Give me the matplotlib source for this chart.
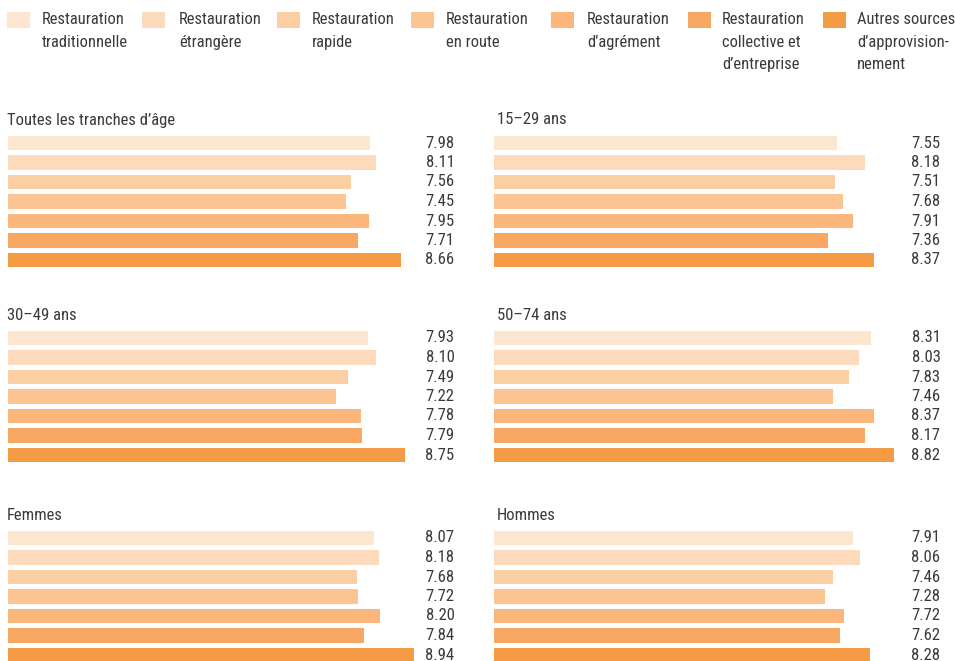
import matplotlib
matplotlib.use("Agg")
import matplotlib.pyplot as plt
from matplotlib.patches import Rectangle

W, H = 955, 661

legend_labels = [
    "Restauration\ntraditionnelle",
    "Restauration\nétrangère",
    "Restauration\nrapide",
    "Restauration\nen route",
    "Restauration\nd’agrément",
    "Restauration\ncollective et\nd’entreprise",
    "Autres sources\nd’approvision-\nnement",
]
colors = ["#fde6cf", "#fcdabb", "#fccea3", "#fbc492", "#fab67b", "#f8a862", "#f59a45"]

panel_titles = ["Toutes les tranches d’âge", "15–29 ans", "30–49 ans",
                "50–74 ans", "Femmes", "Hommes"]
toutes = [7.98, 8.11, 7.56, 7.45, 7.95, 7.71, 8.66]
ans_15_29 = [7.55, 8.18, 7.51, 7.68, 7.91, 7.36, 8.37]
ans_30_49 = [7.93, 8.10, 7.49, 7.22, 7.78, 7.79, 8.75]
ans_50_74 = [8.31, 8.03, 7.83, 7.46, 8.37, 8.17, 8.82]
femmes = [8.07, 8.18, 7.68, 7.72, 8.20, 7.84, 8.94]
hommes = [7.91, 8.06, 7.46, 7.28, 7.72, 7.62, 8.28]
panel_values = [toutes, ans_15_29, ans_30_49, ans_50_74, femmes, hommes]

plt.rcParams['font.family'] = ['Roboto Condensed', 'DejaVu Sans']
txt_color = "#3a3a3a"
FS = 12

fig = plt.figure(figsize=(W / 100, H / 100), dpi=100)

def fx(x):
    return x / W

def fy(y):
    return 1 - y / H

# Legend
patch_x = [7, 142, 277, 411, 551, 688, 823]
text_x = [42, 179, 312, 446, 587, 722, 857]
for px, tx, lab, col in zip(patch_x, text_x, legend_labels, colors):
    fig.add_artist(Rectangle((fx(px), fy(28)), 23 / W, 16 / H,
                             transform=fig.transFigure, color=col, lw=0))
    fig.text(fx(tx), fy(12), lab, ha="left", va="top", fontsize=11.9,
             color=txt_color, linespacing=1.64)

# Panels
col_left = [8, 494]
row_first_center = [143, 338, 538]
title_y = [120, 316, 516]
title_x = [7, 497]
spacing = 19.5
px_per_unit = 45.4
ax_w = 450

for i, (title, vals) in enumerate(zip(panel_titles, panel_values)):
    r, c = divmod(i, 2)
    top = row_first_center[r] - spacing / 2
    h = spacing * 7
    left = col_left[c]
    ax = fig.add_axes([fx(left), fy(top + h), ax_w / W, h / H])
    ypos = list(range(len(vals)))
    ax.barh(ypos, vals, height=0.72, color=colors, lw=0)
    ax.set_ylim(6.5, -0.5)
    ax.set_xlim(0, ax_w / px_per_unit)
    ax.axis("off")
    for y, v in zip(ypos, vals):
        ax.text(0.992, y, f"{v:.2f}", transform=ax.get_yaxis_transform(),
                ha="right", va="center", fontsize=FS, color=txt_color)
    fig.text(fx(title_x[c]), fy(title_y[r]), title, ha="left", va="center",
             fontsize=FS, color=txt_color)

fig.savefig("out.png", dpi=100)
